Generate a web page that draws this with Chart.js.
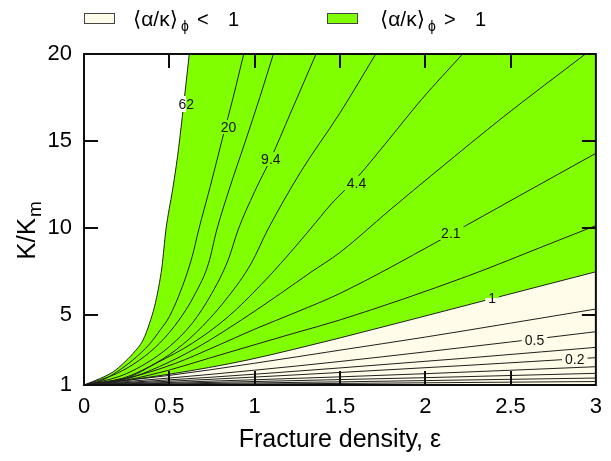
<!DOCTYPE html>
<html>
<head>
<meta charset="utf-8">
<script src="https://cdn.jsdelivr.net/npm/chart.js@4.4.0/dist/chart.umd.min.js"></script>
<style>
  html, body { margin: 0; padding: 0; background: #fff; }
</style>
</head>
<body>
<canvas id="chart_contours" width="611" height="461"></canvas>
<script>
// axis ticks
var xTicks = [0, 0.5, 1, 1.5, 2, 2.5, 3];
var yTicks = [1, 5, 10, 15, 20];

// contour lines, [fracture density, K/Km]
var c62 = [[0,1],[0.096,1.38],[0.173,1.77],[0.231,2.25],[0.288,2.82],[0.346,3.58],[0.384,4.54],[0.413,5.49],[0.438,6.64],[0.457,7.79],[0.48,9.9],[0.519,12.2],[0.548,14.1],[0.576,16.4],[0.617,20]];
var c20 = [[0,1],[0.1,1.25],[0.192,1.75],[0.288,2.45],[0.384,3.35],[0.45,4.2],[0.5,4.92],[0.576,6.64],[0.634,8.37],[0.672,9.9],[0.74,12.4],[0.81,15.1],[0.874,17.5],[0.936,20]];
var c14 = [[0,1],[0.19,1.65],[0.327,2.44],[0.442,3.39],[0.557,4.73],[0.653,6.26],[0.73,7.98],[0.778,9.9],[0.85,12.2],[0.946,15],[1.03,17.5],[1.11,20]];
var c9_4 = [[0,1],[0.21,1.5],[0.365,2.25],[0.5,3.2],[0.634,4.54],[0.749,6.26],[0.845,8.18],[0.903,9.9],[1.0,12.1],[1.095,14.0],[1.21,16.6],[1.36,20]];
var c6_4 = [[0,1],[0.23,1.4],[0.384,2.06],[0.538,3.01],[0.692,4.35],[0.845,6.07],[0.98,7.98],[1.076,9.9],[1.268,13.2],[1.499,16.6],[1.71,20]];
var c4_4 = [[0,1],[0.25,1.4],[0.423,2.25],[0.634,3.39],[0.845,4.92],[1.037,6.75],[1.191,8.4],[1.326,9.95],[1.45,11.4],[1.6,12.9],[1.787,15.1],[1.979,17.4],[2.219,20]];
var c3_0 = [[0,1],[0.25,1.35],[0.442,2.06],[0.672,3.2],[0.922,4.73],[1.153,6.26],[1.326,7.45],[1.499,8.6],[1.787,11.0],[2.075,13.34],[2.459,16.4],[2.939,20]];
var c2_1 = [[0,1],[0.288,1.48],[0.538,2.25],[0.768,3.2],[0.999,4.2],[1.249,5.2],[1.499,6.25],[2.075,9.25],[2.238,10.15],[3,14.3]];
var c1_45 = [[0,1],[0.25,1.29],[0.5,1.86],[0.73,2.53],[0.961,3.2],[1.23,3.97],[1.499,4.73],[2.248,7.25],[2.728,9.1],[3,10.15]];
var c1 = [[0,1],[0.25,1.27],[0.5,1.62],[0.73,2.0],[0.961,2.44],[1.23,3.05],[1.499,3.7],[2.392,5.96],[3,7.5]];
var c0_69 = [[0,1],[0.5,1.55],[1,2.25],[1.5,3.0],[2,3.75],[2.5,4.55],[3,5.36]];
var c0_47 = [[0,1],[0.5,1.4],[1,1.85],[1.5,2.35],[2,2.9],[2.5,3.47],[3,4.06]];
var c0_32 = [[0,1],[0.75,1.45],[1.5,1.98],[2.25,2.55],[3,3.16]];
var c0_22 = [[0,1],[0.75,1.33],[1.5,1.72],[2.25,2.13],[3,2.57]];
var c0_15 = [[0,1],[1,1.3],[2,1.65],[3,2.05]];
var c0_10 = [[0,1],[1,1.2],[2,1.42],[3,1.67]];
var c0_07 = [[0,1],[1.5,1.18],[3,1.4]];
var c0_05 = [[0,1],[1.5,1.09],[3,1.2]];

var contours = [c62, c20, c14, c9_4, c6_4, c4_4, c3_0, c2_1, c1_45, c1, c0_69, c0_47, c0_32, c0_22, c0_15, c0_10, c0_07, c0_05];

// in-line labels
var labelTexts = ['62', '20', '9.4', '4.4', '2.1', '1', '0.5', '0.2'];
var labelX = [0.599, 0.847, 1.095, 1.597, 2.15, 2.392, 2.64, 2.876];
var labelY = [17.13, 15.81, 13.97, 12.6, 9.73, 5.99, 3.55, 2.49];

var legendTexts = ['\u27E8\u03B1/\u03BA\u27E9', '\u03D5', '<', '>', '1'];

var GREEN = '#80ff00';
var CREAM = '#fffcea';
var FRAME = '#0d0d0d';
var FONT = "'Liberation Sans', 'DejaVu Sans', Arial, sans-serif";

function pts(arr) {
    return arr.map(function (p) { return {x: p[0], y: p[1]}; });
}

var datasets = [
    {data: pts(c62), showLine: true, pointRadius: 0, borderWidth: 1, borderColor: 'rgba(0,0,0,0)', fill: 'end', backgroundColor: '#ffffff', cubicInterpolationMode: 'monotone'},
    {data: pts(c1), showLine: true, pointRadius: 0, borderWidth: 1, borderColor: 'rgba(0,0,0,0)', fill: 'end', backgroundColor: GREEN, cubicInterpolationMode: 'monotone'},
    {data: pts(c1), showLine: true, pointRadius: 0, borderWidth: 1, borderColor: 'rgba(0,0,0,0)', fill: 'start', backgroundColor: CREAM, cubicInterpolationMode: 'monotone'}
];
contours.forEach(function (c) {
    datasets.push({data: pts(c), showLine: true, pointRadius: 0, borderWidth: 1, borderColor: '#202020', fill: false, cubicInterpolationMode: 'monotone'});
});

function drawFrame(chart) {
    var g = chart.ctx;
    var a = chart.chartArea;
    var sx = chart.scales.x, sy = chart.scales.y;
    g.save();
    g.strokeStyle = FRAME;
    g.lineWidth = 2;
    g.beginPath();
    g.rect(a.left, a.top, a.right - a.left, a.bottom - a.top);
    for (var j = 1; j < xTicks.length - 1; j++) {
        var tx = Math.round(sx.getPixelForValue(xTicks[j]));
        g.moveTo(tx, a.bottom); g.lineTo(tx, a.bottom - 14);
        g.moveTo(tx, a.top); g.lineTo(tx, a.top + 14);
    }
    for (var k = 1; k < yTicks.length - 1; k++) {
        var ty = Math.round(sy.getPixelForValue(yTicks[k]));
        g.moveTo(a.left, ty); g.lineTo(a.left + 14, ty);
        g.moveTo(a.right, ty); g.lineTo(a.right - 14, ty);
    }
    g.stroke();
    g.restore();
}

function drawLabels(chart) {
    var g = chart.ctx;
    var sx = chart.scales.x, sy = chart.scales.y;
    g.save();
    g.font = '14px ' + FONT;
    g.textAlign = 'center';
    g.textBaseline = 'middle';
    for (var i = 0; i < labelTexts.length; i++) {
        var px = sx.getPixelForValue(labelX[i]);
        var py = sy.getPixelForValue(labelY[i]);
        var w = g.measureText(labelTexts[i]).width;
        if (i === 0) {
            g.fillStyle = '#ffffff';
            g.fillRect(px - w / 2 - 2, py - 8, w / 2 + 2, 16);
            g.fillStyle = GREEN;
            g.fillRect(px, py - 8, w / 2 + 2, 16);
        } else if (labelTexts[i] === '1') {
            g.fillStyle = GREEN;
            g.fillRect(px - w / 2 - 3, py - 8, w + 6, 8);
            g.fillStyle = CREAM;
            g.fillRect(px - w / 2 - 3, py, w + 6, 8);
        } else {
            g.fillStyle = labelY[i] > 5.8 ? GREEN : CREAM;
            g.fillRect(px - w / 2 - 3, py - 7, w + 6, 14);
        }
        g.fillStyle = '#111111';
        g.fillText(labelTexts[i], px, py + 1);
    }
    g.restore();
}

function drawTexts(chart) {
    var g = chart.ctx;
    g.save();
    g.fillStyle = '#000000';
    g.textBaseline = 'alphabetic';
    g.textAlign = 'left';

    // y axis title K/K_m
    g.translate(35, 231);
    g.rotate(-Math.PI / 2);
    g.font = '26px ' + FONT;
    var w1 = g.measureText('K/K').width;
    g.font = '19px ' + FONT;
    var w2 = g.measureText('m').width;
    var x0 = -(w1 + w2) / 2;
    g.font = '26px ' + FONT;
    g.fillText('K/K', x0, 0);
    g.font = '19px ' + FONT;
    g.fillText('m', x0 + w1 + 1, 6);
    g.setTransform(1, 0, 0, 1, 0, 0);

    // legend
    function item(bx, tx0, color, sign) {
        g.fillStyle = '#444444';
        g.fillRect(bx, 13, 31, 11);
        g.fillStyle = color;
        g.fillRect(bx + 1, 14, 29, 9);
        g.fillStyle = '#000000';
        g.font = '21px ' + FONT;
        g.fillText(legendTexts[0], tx0, 26);
        g.font = '14px ' + FONT;
        g.fillText(legendTexts[1], tx0 + 48, 31);
        g.font = '20px ' + FONT;
        g.fillText(sign, tx0 + 64, 26);
        g.fillText(legendTexts[4], tx0 + 95, 26);
    }
    item(84, 133, CREAM, legendTexts[2]);
    item(327, 380, GREEN, legendTexts[3]);
    g.restore();
}

var decorations = {
    id: 'decorations',
    afterDraw: function (chart) {
        drawLabels(chart);
        drawTexts(chart);
        drawFrame(chart);
    }
};

var chart = new Chart(document.getElementById('chart_contours').getContext('2d'), {
    type: 'scatter',
    data: {datasets: datasets},
    options: {
        responsive: false,
        animation: false,
        devicePixelRatio: 1,
        layout: {padding: {top: 54, right: 7, left: 0, bottom: 0}},
        plugins: {
            legend: {display: false},
            tooltip: {enabled: false},
            filler: {drawTime: 'beforeDatasetsDraw'}
        },
        scales: {
            x: {
                type: 'linear',
                min: 0,
                max: 3,
                afterBuildTicks: function (s) { s.ticks = xTicks.map(function (v) { return {value: v}; }); },
                afterFit: function (s) { s.height = 76; },
                grid: {display: false, drawTicks: false},
                border: {display: false},
                ticks: {
                    color: '#000',
                    font: {family: FONT, size: 22},
                    padding: 9,
                    maxRotation: 0,
                    autoSkip: false,
                    callback: function (v) { return String(v); }
                },
                title: {
                    display: true,
                    text: 'Fracture density, \u03B5',
                    color: '#000',
                    font: {family: FONT, size: 25},
                    padding: {top: 0, bottom: 6}
                }
            },
            y: {
                type: 'linear',
                min: 1,
                max: 20,
                afterBuildTicks: function (s) { s.ticks = yTicks.map(function (v) { return {value: v}; }); },
                afterFit: function (s) { s.width = 84; },
                grid: {display: false, drawTicks: false},
                border: {display: false},
                ticks: {
                    color: '#000',
                    font: {family: FONT, size: 22},
                    padding: 12,
                    autoSkip: false,
                    callback: function (v) { return String(v); }
                }
            }
        }
    },
    plugins: [decorations]
});
</script>
</body>
</html>
